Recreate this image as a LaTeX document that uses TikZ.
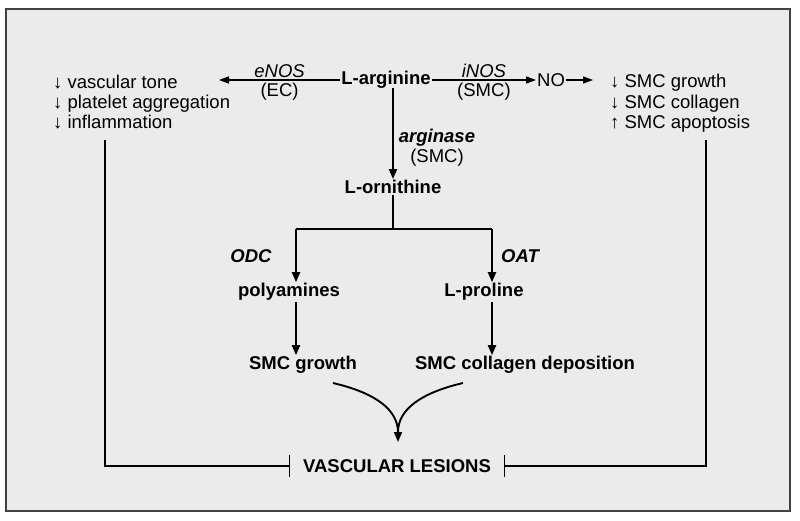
\documentclass[tikz,border=0pt]{standalone}
\usepackage{fontspec}
\setmainfont{Liberation Sans}
\usetikzlibrary{arrows.meta}
\begin{document}
\begin{tikzpicture}[x=1pt,y=-1pt,
  every node/.style={inner sep=1pt,font=\fontsize{18.5}{21}\selectfont},
  bnode/.style={font=\fontsize{18.5}{21}\selectfont\bfseries},
  lab/.style={font=\fontsize{18.5}{21}\selectfont\itshape},
  blab/.style={font=\fontsize{18.5}{21}\selectfont\bfseries\itshape},
  item/.style={anchor=base west,inner sep=0pt},
  thinarr/.style={line width=1.3pt,-{Triangle[length=10pt,width=7pt]}},
  thickarr/.style={line width=1.9pt,-{Triangle[length=10pt,width=8pt]}},
  plain/.style={line width=1.9pt},
  inhib/.style={line width=1.1pt,-{Bar[width=22pt,line width=1.3pt]}}]
\useasboundingbox (0,0) rectangle (800,520);
\fill[white] (0,0) rectangle (800,520);
\draw[fill=black!8,draw=black!75,line width=1.4pt] (6,9) rectangle (790,511);

% top row
\node[bnode] (arg) at (386,80) {L-arginine};
\node[item] (l1) at (53,88) {↓ vascular tone};
\node[item] (l2) at (53,108) {↓ platelet aggregation};
\node[item] (l3) at (53,128) {↓ inflammation};
\node[item] (r1) at (610,87) {↓ SMC growth};
\node[item] (r2) at (610,108) {↓ SMC collagen};
\node[item] (r3) at (610,128) {↑ SMC apoptosis};
\node[anchor=west] (no) at (536,80) {NO};
\coordinate (eend) at (219,80);
\draw[thinarr] (arg.west |- eend) -- (eend) node[midway,above=1pt,lab] (enos) {eNOS} node[midway,below=1pt] (ec) {(EC)};
\draw[thinarr] (arg.east |- no.west) -- (no.west) node[midway,above=1pt,lab] (inos) {iNOS} node[midway,below=1pt] (smc1) {(SMC)};
\coordinate (nr) at (593,80);
\draw[thinarr] (no.east) -- (nr);

% arginase
\node[bnode] (orn) at (393,187) {L-ornithine};
\draw[thickarr] ([yshift=2pt]arg.south -| orn) -- (orn.north) node[midway,right=4pt,blab,yshift=-4pt] (argi) {arginase};
\node[anchor=north] (smc2) at (argi.south) {(SMC)};

% branch
\node[bnode] (poly) at (289,292) {polyamines};
\node[bnode] (pro) at (484,292) {L-proline};
\coordinate (bl) at (296,229);
\coordinate (br) at (492,229);
\coordinate (bm) at (393,229);
\draw[plain] (orn.south) -- (bm);
\draw[plain] (bl) -- (br);
\draw[thickarr] (bl) -- (bl |- poly.north);
\draw[thickarr] (br) -- (br |- pro.north);
\node[blab] (odc) at (251,256) {ODC};
\node[blab] (oat) at (520,256) {OAT};

\node[bnode] (sg) at (303,365) {SMC growth};
\node[bnode] (scd) at (525,365) {SMC collagen deposition};
\draw[thickarr] (poly.south -| bl) -- (bl |- sg.north);
\draw[thickarr] (pro.south -| br) -- (br |- scd.north);

% Y-shaped merge
\node[bnode] (vl) at (397,466) {VASCULAR LESIONS};
\coordinate (cl) at (333,383);
\coordinate (cr) at (463,383);
\coordinate (cj) at (398,442);
\draw[plain] (cr) .. controls (420,393) and (398,410) .. (398,432);
\draw[thickarr] (cl) .. controls (376,393) and (398,410) .. (cj);

% inhibitory lines
\coordinate (lt) at (105,140);
\coordinate (rt) at (706,140);
\draw[inhib] (lt) |- ([xshift=-12pt]vl.west);
\draw[inhib] (rt) |- ([xshift=12pt]vl.east);
\end{tikzpicture}
\end{document}
